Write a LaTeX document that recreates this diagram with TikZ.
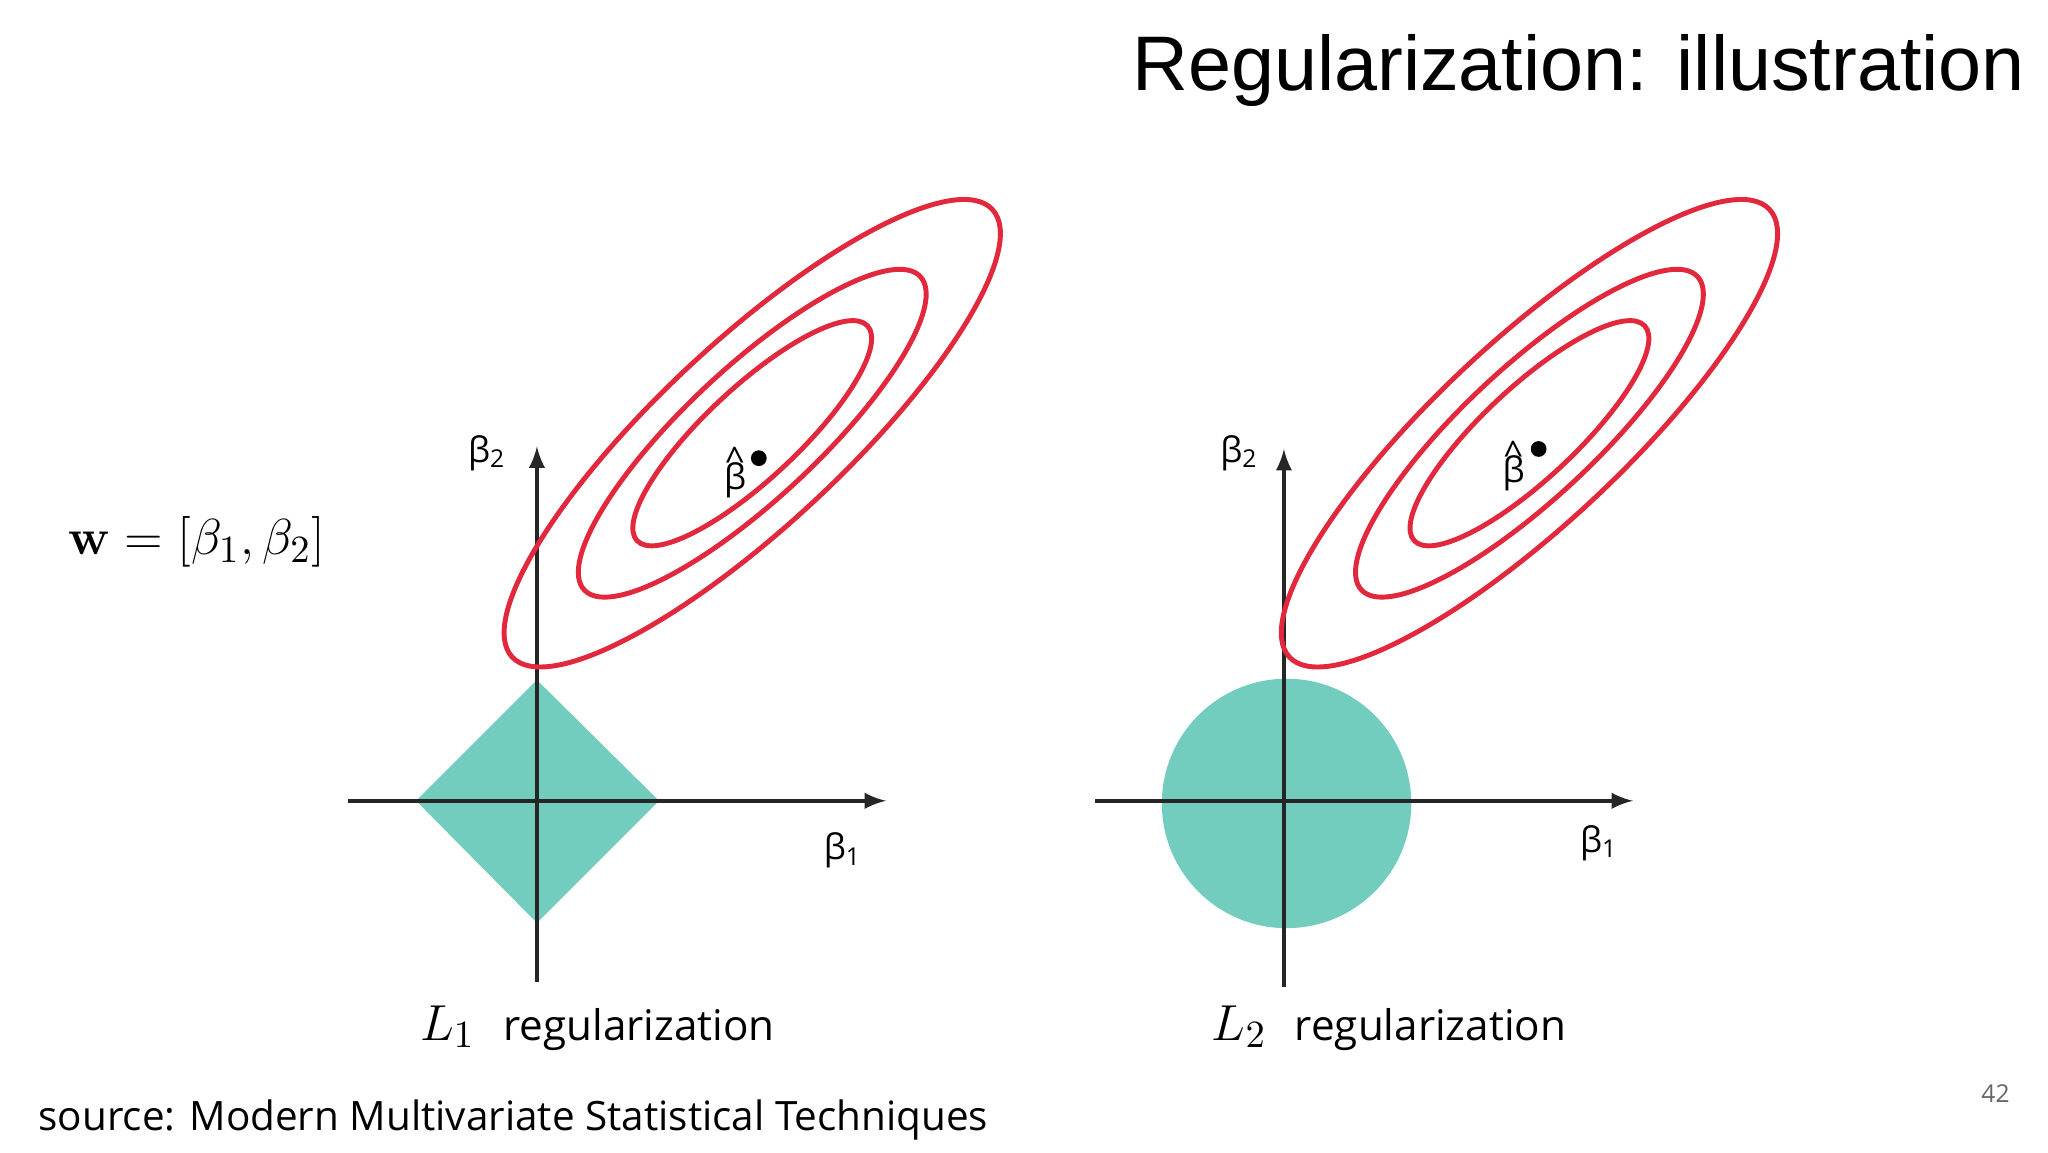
\documentclass[tikz,border=0pt]{standalone}
\usepackage{amsmath}
\usepackage[no-math]{fontspec}
\setmainfont{Open Sans}
\setsansfont{Open Sans}
\newfontfamily\titlefont{Liberation Sans}
\usetikzlibrary{positioning}
\definecolor{contour}{RGB}{225,40,60}
\definecolor{penalty}{RGB}{115,205,190}
\tikzset{
  % axes with arrow tips
  axis/.style = {->, >=latex, line width=1.1pt, black!85},
  % contour lines of the loss
  level/.style = {draw=contour, line width=1.4pt},
  region/.style = {fill=penalty, draw=none},
  blabel/.style = {font=\sffamily\fontsize{10}{11}\selectfont},
}
\begin{document}
\begin{tikzpicture}[x=0.01313cm, y=-0.01313cm]
  \useasboundingbox (0,0) rectangle (1560,878);

  \node[anchor=east, font=\titlefont\fontsize{22}{26}\selectfont] (title) at (1552,54) {Regularization: illustration};

  % left: L1
  \begin{scope}
    \fill[region] (317,610) -- (409,518) -- (502,610) -- (409,703) -- cycle;
    \coordinate (xl) at (265,610);
    \coordinate (xr) at (675,610);
    \coordinate (yb) at (409,748);
    \coordinate (yt) at (409,340);
    \draw[axis] (xl) -- (xr);
    \draw[axis] (yb) -- (yt);
    \foreach \a/\b in {250/70, 175/50, 120/35}
      \draw[level, rotate around={43:(573,330)}] (573,330) ellipse ({\a} and {\b});
    \fill (578,349) circle (6);
    \node[blabel, inner sep=0pt] (bh) at (560,360) {β\llap{\raisebox{0.9ex}{\^{}}\hspace{0.5pt}}};
    \node[blabel] (b2) at (371,345) {β\textsubscript{2}};
    \node[blabel] (b1) at (642,648) {β\textsubscript{1}};
    \node[font=\fontsize{12}{14}\selectfont] (lone) at (455,783) {\fontsize{15}{16}\selectfont$L_1$\; \fontsize{12}{14}\selectfont regularization};
  \end{scope}

  % right: L2
  \begin{scope}[xshift=569*0.01313cm]
    \fill[region] (411,612) circle (95);
    \coordinate (xl2) at (265,610);
    \coordinate (xr2) at (675,610);
    \coordinate (yb2) at (409,752);
    \coordinate (yt2) at (409,342);
    \draw[axis] (xl2) -- (xr2);
    \draw[axis] (yb2) -- (yt2);
    \foreach \a/\b in {250/70, 175/50, 120/35}
      \draw[level, rotate around={43:(596,330)}] (596,330) ellipse ({\a} and {\b});
    \fill (603,342) circle (6);
    \node[blabel, inner sep=0pt] (bh2) at (584,355) {β\llap{\raisebox{0.9ex}{\^{}}\hspace{0.5pt}}};
    \node[blabel] (b22) at (375,345) {β\textsubscript{2}};
    \node[blabel] (b12) at (649,642) {β\textsubscript{1}};
    \node[font=\fontsize{12}{14}\selectfont] (ltwo) at (489,783) {\fontsize{15}{16}\selectfont$L_2$\; \fontsize{12}{14}\selectfont regularization};
  \end{scope}

  \node[font=\fontsize{15}{17}\selectfont] (w) at (150,413) {$\mathbf{w} = [\beta_1, \beta_2]$};
  \node[anchor=west, font=\fontsize{11.5}{13}\selectfont] (src) at (20,853) {source: Modern Multivariate Statistical Techniques};
  \node[font=\fontsize{7}{8}\selectfont, text=black!60] (page) at (1520,833) {42};
\end{tikzpicture}
\end{document}
